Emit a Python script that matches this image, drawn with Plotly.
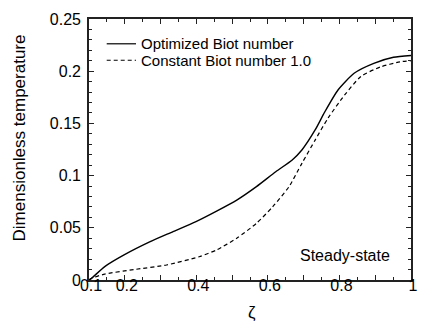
import plotly.graph_objects as go

# Data
zeta_opt = [0.1, 0.107, 0.144, 0.198, 0.271, 0.335, 0.399, 0.458, 0.513, 0.568,
            0.622, 0.668, 0.695, 0.732, 0.759, 0.796, 0.841, 0.896, 0.951, 1.0]
T_opt = [0.0, 0.0016, 0.0128, 0.024, 0.0367, 0.0463, 0.0559, 0.0662, 0.0765, 0.0894,
         0.1037, 0.115, 0.1245, 0.1437, 0.161, 0.182, 0.198, 0.2075, 0.2133, 0.215]

zeta_const = [0.1, 0.107, 0.144, 0.226, 0.317, 0.408, 0.458, 0.513, 0.568, 0.613,
              0.659, 0.695, 0.732, 0.768, 0.814, 0.86, 0.914, 0.969, 1.0]
T_const = [0.0, 0.0016, 0.0057, 0.010, 0.0144, 0.0223, 0.029, 0.040, 0.0543, 0.070,
           0.0894, 0.1117, 0.134, 0.155, 0.177, 0.195, 0.204, 0.209, 0.210]

series_names = ["Optimized Biot number", "Constant Biot number 1.0"]
x_tickvals = [0.1, 0.2, 0.3, 0.4, 0.5, 0.6, 0.7, 0.8, 0.9, 1.0]
x_ticktext = ["0.1", "0.2", "", "0.4", "", "0.6", "", "0.8", "", "1"]
y_tickvals = [0, 0.05, 0.1, 0.15, 0.2, 0.25]
y_ticktext = ["0", "0.05", "0.1", "0.15", "0.2", "0.25"]

FONT = "Liberation Sans, Arial, Helvetica, sans-serif"

fig = go.Figure()
fig.add_trace(go.Scatter(x=zeta_opt, y=T_opt, mode="lines", name=series_names[0],
                         line=dict(color="black", width=1.4, shape="spline", smoothing=0.6),
                         showlegend=False))
fig.add_trace(go.Scatter(x=zeta_const, y=T_const, mode="lines", name=series_names[1],
                         line=dict(color="black", width=1.2, dash="4px,3px", shape="spline", smoothing=0.6),
                         showlegend=False))

axis_common = dict(showline=True, linecolor="#222", linewidth=1.6, mirror="ticks",
                   ticks="inside", ticklen=5, tickwidth=1.2, tickcolor="#222",
                   showgrid=False, zeroline=False,
                   tickfont=dict(family=FONT, size=16, color="black"))

fig.update_xaxes(range=[0.1, 1.0], tickvals=x_tickvals, ticktext=x_ticktext,
                 minor=dict(ticks="inside", ticklen=3, dtick=0.05, tick0=0.1, tickcolor="#222", tickwidth=1),
                 ticklabelstandoff=-10, ticklabelshift=2, **axis_common)
fig.update_yaxes(range=[0, 0.25], tickvals=y_tickvals, ticktext=y_ticktext,
                 minor=dict(ticks="inside", ticklen=3, dtick=0.01, tick0=0, tickcolor="#222", tickwidth=1),
                 ticklabelstandoff=3, **axis_common)

# Manual legend
legend_y = [0.905, 0.842]
legend_dash = ["solid", "4px,3px"]
for name, ly, dsh in zip(series_names, legend_y, legend_dash):
    fig.add_shape(type="line", xref="paper", yref="paper", x0=0.055, x1=0.146, y0=ly, y1=ly,
                  line=dict(color="black", width=1.2, dash=dsh))
    fig.add_annotation(text=name, xref="paper", yref="paper", x=0.155, y=ly,
                       xanchor="left", yanchor="middle", showarrow=False,
                       font=dict(family=FONT, size=15, color="black"))

fig.add_annotation(text="Steady-state", xref="paper", yref="paper", x=0.796, y=0.092,
                   xanchor="center", yanchor="middle", showarrow=False,
                   font=dict(family=FONT, size=16, color="black"))
fig.add_annotation(text="ζ", xref="paper", yref="paper", x=0.505, y=-0.126,
                   xanchor="center", yanchor="middle", showarrow=False,
                   font=dict(family=FONT, size=17, color="black"))
fig.add_annotation(text="Dimensionless temperature", xref="paper", yref="paper",
                   x=-0.216, y=0.544, textangle=-90, xanchor="center", yanchor="middle",
                   showarrow=False, font=dict(family=FONT, size=17, color="black"))

fig.update_layout(width=423, height=322, margin=dict(l=89, r=5, t=19, b=42),
                  paper_bgcolor="white", plot_bgcolor="white",
                  font=dict(family=FONT, color="black"))

fig.write_html("out.html")
